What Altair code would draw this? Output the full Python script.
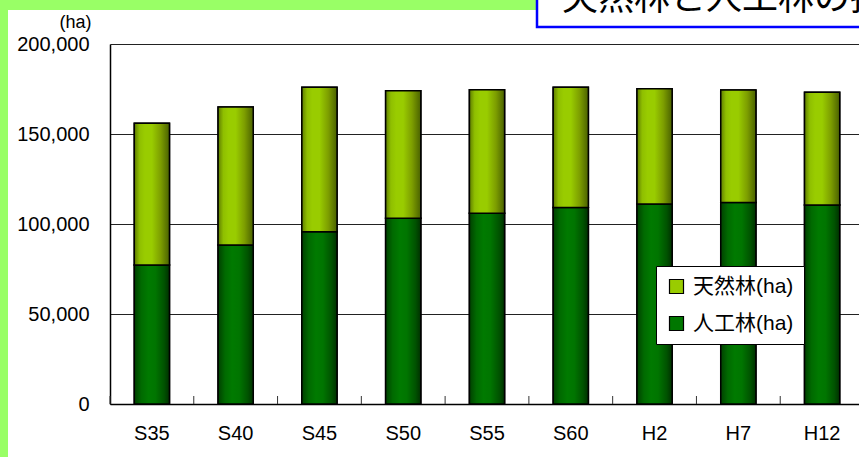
import altair as alt
import pandas as pd

# Forest area by survey year (ha)
years = ["S35", "S40", "S45", "S50", "S55", "S60", "H2", "H7", "H12"]
planted = [77200, 88300, 95700, 103200, 106000, 109100, 111100, 112000, 110600]
natural = [78800, 76700, 80300, 70800, 68600, 66900, 64100, 62400, 62600]

S_NAT = "天然林(ha)"
S_PLA = "人工林(ha)"
series_order = [S_NAT, S_PLA]
series_colors = ["#99cc00", "#007700"]
y_ticks = [0, 50000, 100000, 150000, 200000]

rows = []
for yr, p, n in zip(years, planted, natural):
    rows.append({"year": yr, "series": S_PLA, "lo": 0, "hi": p})
    rows.append({"year": yr, "series": S_NAT, "lo": p, "hi": p + n})
df = pd.DataFrame(rows)

LATIN = "Liberation Sans, Arial, Noto Sans CJK JP"
CJK = "Noto Sans CJK JP, Noto Sans CJK SC, sans-serif"

W, H = 749, 360
band_range = [0, 754]

x_enc = alt.X(
    "year:N",
    sort=years,
    scale=alt.Scale(range=band_range, paddingInner=0.58, paddingOuter=0.29),
    axis=alt.Axis(
        title=None, labelAngle=0, ticks=False, grid=False,
        domainColor="black", domainWidth=1.5,
        labelFont=LATIN, labelFontSize=20, labelColor="black", labelPadding=19,
    ),
)
y_scale = alt.Scale(domain=[0, 200000], nice=False)
y_enc = alt.Y(
    "hi:Q",
    scale=y_scale,
    axis=alt.Axis(
        values=y_ticks, format=",d", ticks=False,
        grid=True, gridColor="#222", gridWidth=1,
        domainColor="black", domainWidth=1.5,
        labelFont=LATIN, labelFontSize=20, labelColor="black", labelPadding=21,
        title="(ha)", titleFont=LATIN, titleFontSize=18, titleFontWeight="normal",
        titleColor="black", titleAngle=0, titleAlign="right", titleBaseline="bottom",
        titleX=-19, titleY=-13,
    ),
)

green_grad = alt.Gradient(
    gradient="linear", x1=0, x2=1, y1=0, y2=0,
    stops=[
        alt.GradientStop(offset=0, color="#5f7d00"),
        alt.GradientStop(offset=0.15, color="#8fbf00"),
        alt.GradientStop(offset=0.3, color="#99cc00"),
        alt.GradientStop(offset=0.5, color="#99cc00"),
        alt.GradientStop(offset=0.75, color="#7d9e00"),
        alt.GradientStop(offset=1, color="#4a6100"),
    ],
)
dark_grad = alt.Gradient(
    gradient="linear", x1=0, x2=1, y1=0, y2=0,
    stops=[
        alt.GradientStop(offset=0, color="#004000"),
        alt.GradientStop(offset=0.2, color="#006a00"),
        alt.GradientStop(offset=0.4, color="#007a00"),
        alt.GradientStop(offset=0.6, color="#007500"),
        alt.GradientStop(offset=0.85, color="#005200"),
        alt.GradientStop(offset=1, color="#003000"),
    ],
)

base = alt.Chart(df)

# solid stacked bars carrying the legend
legend_bars = base.mark_bar(stroke="black", strokeWidth=1.5).encode(
    x=x_enc,
    y=y_enc,
    y2="lo:Q",
    color=alt.Color(
        "series:N",
        scale=alt.Scale(domain=series_order, range=series_colors),
        legend=alt.Legend(
            title=None, orient="none", legendX=546, legendY=222,
            fillColor="white", strokeColor="black",
            padding=10, rowPadding=15, symbolType="square", symbolSize=196,
            symbolStrokeColor="black", symbolStrokeWidth=1.2,
            labelFont=LATIN, labelFontSize=21, labelColor="black", labelOffset=6,
        ),
    ),
)

# shaded cylinders drawn over the solid bars
planted_bars = base.transform_filter(alt.datum.series == S_PLA).mark_bar(
    fill=dark_grad, stroke="black", strokeWidth=1.5
).encode(x=x_enc, y=y_enc, y2="lo:Q")

natural_bars = base.transform_filter(alt.datum.series == S_NAT).mark_bar(
    fill=green_grad, stroke="black", strokeWidth=1.5
).encode(x=x_enc, y=y_enc, y2="lo:Q")

bars = alt.layer(legend_bars, planted_bars, natural_bars)

# short inward ticks at the category boundaries
tick_data = alt.Chart(pd.DataFrame({"year": years}))
ticks = tick_data.mark_rule(color="#333", strokeWidth=1).encode(
    x=alt.X(
        "year:N", sort=years, bandPosition=0, axis=None,
        scale=alt.Scale(range=band_range, paddingInner=0, paddingOuter=0),
    ),
    y=alt.value(H - 8),
    y2=alt.value(H),
)

one = alt.Chart(pd.DataFrame({"k": [0]}))
frame_left = one.mark_rect(fill="#99ff66").encode(
    x=alt.value(-110), x2=alt.value(-102), y=alt.value(-44), y2=alt.value(H + 60)
)
frame_top = one.mark_rect(fill="#99ff66").encode(
    x=alt.value(-110), x2=alt.value(W + 20), y=alt.value(-44), y2=alt.value(-34)
)
title_box = one.mark_rect(fill="white", stroke="#0000ff", strokeWidth=2.5).encode(
    x=alt.value(427), x2=alt.value(W + 40), y=alt.value(-70), y2=alt.value(-17)
)
title_text = one.mark_text(
    text="天然林と人工林の推移", font=CJK, fontSize=36, color="black",
    align="left", baseline="alphabetic",
).encode(x=alt.value(452), y=alt.value(-34))

chart = (
    alt.layer(frame_left, frame_top, title_box, title_text, bars, ticks)
    .resolve_scale(x="independent")
    .properties(
        width=W,
        height=H,
        autosize=alt.AutoSizeParams(type="none"),
        padding={"left": 110, "top": 44, "right": 0, "bottom": 53},
        background="white",
    )
    .configure_view(stroke=None)
)

chart.save("out.html", embed_options={"renderer": "svg", "actions": False})
